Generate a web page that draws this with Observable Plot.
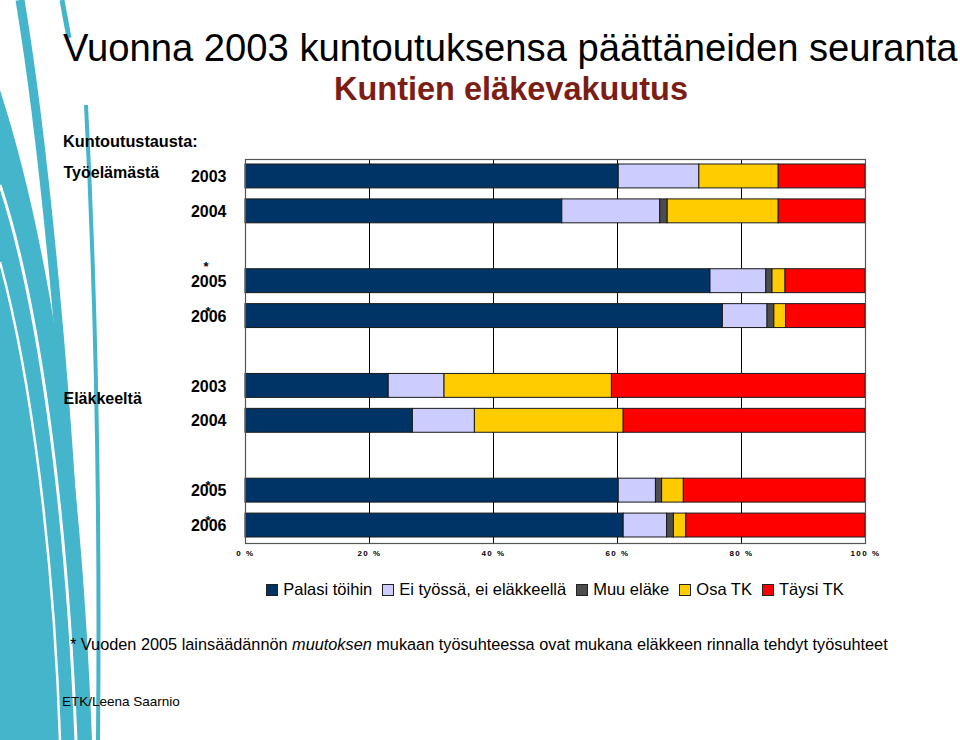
<!DOCTYPE html>
<html>
<head>
<meta charset="utf-8">
<script src="https://cdn.jsdelivr.net/npm/d3@7"></script>
<script src="https://cdn.jsdelivr.net/npm/@observablehq/plot@0.6"></script>
<style>
  html, body { margin: 0; padding: 0; background: #fff; }
  body { width: 960px; height: 740px; position: relative; overflow: hidden; font-family: "Liberation Sans", Arial, sans-serif; }
  .abs { position: absolute; white-space: nowrap; }
  #deco { position: absolute; left: 0; top: 0; z-index: 0; }
  #chart { position: absolute; left: 0; top: 0; z-index: 1; }
  .txt { z-index: 2; }
  #title { left: 63px; top: 26px; font-size: 38.2px; color: #000; }
  #subtitle { left: 0; width: 1022px; text-align: center; top: 71px; font-size: 32.5px; font-weight: bold; color: #7d1e16; }
  #kt { left: 63px; top: 132px; font-size: 16.3px; font-weight: bold; }
  #legend { left: 0; width: 1110px; top: 580px; font-size: 16.5px; display: flex; justify-content: center; gap: 10px; }
  #legend span.item { display: inline-flex; align-items: center; gap: 5px; }
  #legend i { display: inline-block; width: 10px; height: 10px; border: 1px solid #222; }
  #foot { left: 70px; top: 635px; font-size: 16.3px; }
  #src { left: 62px; top: 694px; font-size: 13.5px; }
</style>
</head>
<body>
<svg id="deco" width="960" height="740" viewBox="0 0 960 740">
  <path d="M0,90 C45,230 80,430 92,740 L0,740 Z" fill="#45b5cb"/>
  <path d="M0,185 C38,300 66,500 76,740" fill="none" stroke="#fff" stroke-width="3"/>
  <path d="M0,262 C32,380 54,560 60,740" fill="none" stroke="#fff" stroke-width="2.5"/>
  <path d="M20,0 C40,120 70,380 84,740" fill="none" stroke="#45b5cb" stroke-width="9"/>
  <path d="M62,0 L69,38" fill="none" stroke="#45b5cb" stroke-width="5"/>
  <path d="M86,105 C96,300 100,520 98,740" fill="none" stroke="#45b5cb" stroke-width="4"/>
</svg>

<div id="title" class="abs txt">Vuonna 2003 kuntoutuksensa päättäneiden seuranta</div>
<div id="subtitle" class="abs txt">Kuntien eläkevakuutus</div>
<div id="kt" class="abs txt">Kuntoutustausta:</div>
<div id="legend" class="abs txt"></div>
<div id="foot" class="abs txt">* Vuoden 2005 lainsäädännön <i>muutoksen</i> mukaan työsuhteessa ovat mukana eläkkeen rinnalla tehdyt työsuhteet</div>
<div id="src" class="abs txt">ETK/Leena Saarnio</div>
<div id="chart"></div>

<script>
// ---- data ----
const slots = ["T2003","T2004","gap1","T2005","T2006","gap2","E2003","E2004","gap3","E2005","E2006"];
const rows = ["T2003","T2004","T2005","T2006","E2003","E2004","E2005","E2006"];
const rowYears = ["2003","2004","2005","2006","2003","2004","2005","2006"];
const starredRows = ["T2005","T2006","E2005","E2006"];
const groupLabels = ["Työelämästä","Eläkkeeltä"];
const groupRows = ["T2003","E2003"];
const categories = ["Palasi töihin","Ei työssä, ei eläkkeellä","Muu eläke","Osa TK","Täysi TK"];
const colors = ["#003366","#ccccff","#4d4d4d","#ffcc00","#ff0000"];
const palasi   = [60.2, 51.1, 75.0, 77.0, 23.1, 27.0, 60.2, 61.0];
const eiTyossa = [13.0, 15.8,  9.0,  7.2,  9.0, 10.0,  6.0,  7.0];
const muuElake = [ 0.0,  1.2,  1.0,  1.1,  0.0,  0.0,  1.0,  1.1];
const osaTK    = [12.8, 17.9,  2.1,  1.9, 27.0, 24.0,  3.5,  2.0];
const taysiTK  = [14.0, 14.0, 12.9, 12.8, 40.9, 39.0, 29.3, 28.9];
const xTicks = [0, 20, 40, 60, 80, 100];
const gridTicks = [20, 40, 60, 80];

const series = [palasi, eiTyossa, muuElake, osaTK, taysiTK];
const table = [];
rows.forEach((r, i) => categories.forEach((c, j) => {
  if (series[j][i] > 0) table.push({row: r, cat: c, value: series[j][i]});
}));
const yearOf = Object.fromEntries(rows.map((r, i) => [r, rowYears[i]]));
const groupData = groupRows.map((r, i) => ({row: r, label: groupLabels[i]}));

const chart = Plot.plot({
  width: 960,
  height: 580,
  marginLeft: 245,
  marginRight: 95,
  marginTop: 159,
  marginBottom: 37,
  style: {background: "transparent", fontFamily: "Liberation Sans, Arial, sans-serif", color: "#000"},
  x: {domain: [0, 100], label: null},
  y: {domain: slots, padding: 0, round: false, label: null},
  color: {domain: categories, range: colors},
  marks: [
    Plot.ruleX(gridTicks, {stroke: "#000", strokeWidth: 1}),
    Plot.barX(table, Plot.stackX({x: "value", y: "row", fill: "cat", stroke: "#1a1a1a", strokeWidth: 1, insetTop: 5, insetBottom: 6, order: categories})),
    Plot.frame({stroke: "#555", strokeWidth: 1.2}),
    Plot.axisX({ticks: xTicks, tickFormat: d => d + " %", tickSize: 0, tickPadding: 7, fontSize: 8, fontWeight: "bold", label: null}),
    Plot.axisY({tickSize: 0, tickPadding: 19, tickFormat: k => yearOf[k] || "", fontSize: 16, fontWeight: "bold", label: null}),
    Plot.text(starredRows.slice(0, 1), {y: d => d, text: () => "*", frameAnchor: "left", dx: -42, dy: -15, fontSize: 13, fontWeight: "bold"}),
    Plot.text(starredRows.slice(1), {y: d => d, text: () => "*", frameAnchor: "left", dx: -40, dy: -5, fontSize: 13, fontWeight: "bold"}),
    Plot.text(groupData.slice(0, 1), {y: "row", text: "label", frameAnchor: "left", textAnchor: "start", dx: -182, dy: -4, fontSize: 16, fontWeight: "bold"}),
    Plot.text(groupData.slice(1), {y: "row", text: "label", frameAnchor: "left", textAnchor: "start", dx: -182, dy: 12, fontSize: 16, fontWeight: "bold"})
  ]
});
document.getElementById("chart").appendChild(chart);
d3.select(chart).selectAll('[aria-label="x-axis tick label"] text').style("letter-spacing", "1.5px");

const legend = document.getElementById("legend");
categories.forEach((c, i) => {
  const s = document.createElement("span");
  s.className = "item";
  s.innerHTML = `<i style="background:${colors[i]}"></i>${c}`;
  legend.appendChild(s);
});
</script>
</body>
</html>
